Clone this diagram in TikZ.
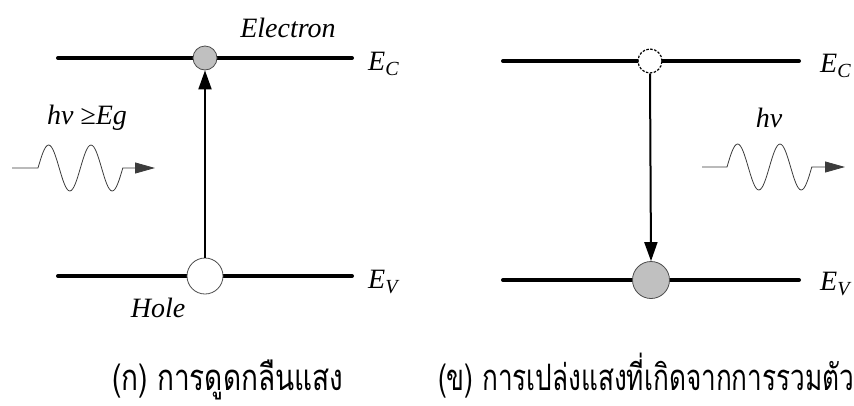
\documentclass[tikz,border=0pt]{standalone}
\usepackage{fontspec}
\setmainfont{Liberation Serif}
\newfontfamily\thaifont[Script=Thai]{Loma}
\usetikzlibrary{arrows.meta,positioning}
\definecolor{carrier}{RGB}{192,192,192}
\definecolor{wavegray}{RGB}{60,60,60}
\newcommand{\lvl}[2]{\textit{#1}\raisebox{-0.45ex}{\fontsize{20}{24}\selectfont\textit{#2}}}
\newcommand{\thaicap}[2][1]{\scalebox{#1}[1.3]{#2}}
\tikzset{
  band/.style={line width=4pt,line cap=round},
  electron/.style={circle,draw=black!70,line width=0.8pt,fill=carrier,minimum size=24pt,inner sep=0pt},
  hole/.style={circle,draw=black!70,line width=0.8pt,fill=white,minimum size=36pt,inner sep=0pt},
  ghost/.style={electron,fill=white,draw=black,dashed,dash pattern=on 2.5pt off 1.5pt,line width=1.2pt},
  trans/.style={-{Triangle[length=19pt,width=13pt]},line width=2pt},
  photon/.style={-{Triangle[length=20pt,width=11pt]},draw=wavegray,line width=0.8pt},
  lbl/.style={font=\fontsize{28}{34}\selectfont\itshape,inner sep=0pt},
  caption/.style={font=\thaifont\fontsize{28}{34}\selectfont,inner sep=0pt,anchor=base west}
}

\begin{document}
\begin{tikzpicture}[x=1pt,y=-1pt]
  \useasboundingbox (0,0) rectangle (854,405);

  % absorption
  \coordinate (cl1) at (58,58);
  \coordinate (cr1) at (352,58);
  \coordinate (vl1) at (58,276);
  \coordinate (vr1) at (352,276);
  \draw[band] (cl1) -- (cr1);
  \draw[band] (vl1) -- (vr1);
  \node[electron] (el1) at (205,58) {};
  \node[hole] (ho1) at (205,276) {};
  \draw[trans] (ho1.north) -- (el1.south);
  \node[lbl,anchor=west] (ec1) at (368,64) {\lvl{E}{C}};
  \node[lbl,anchor=west] (ev1) at (368,282) {\lvl{E}{V}};
  \node[lbl] (elab) at (288,28) {Electron};
  \node[lbl] (hlab) at (158,308) {Hole};
  \node[lbl] (hv1) at (87,118) {hν ≥Eg};
  \coordinate (wa1) at (12,168);
  \coordinate (wb1) at (155,168);
  \draw[photon] (wa1) -- ++(26,0)
    sin ++(10.6,-23) cos ++(10.6,23) sin ++(10.6,23) cos ++(10.6,-23)
    sin ++(10.6,-23) cos ++(10.6,23) sin ++(10.6,23) cos ++(10.6,-23) -- (wb1);

  % emission
  \coordinate (cl2) at (503,61);
  \coordinate (cr2) at (799,61);
  \coordinate (vl2) at (503,280);
  \coordinate (vr2) at (799,280);
  \draw[band] (cl2) -- (cr2);
  \draw[band] (vl2) -- (vr2);
  \node[ghost] (el2) at (650,61) {};
  \node[electron,minimum size=37pt] (ho2) at (651,280) {};
  \draw[trans] (el2.south) -- (ho2.north);
  \node[lbl,anchor=west] (ec2) at (820,66) {\lvl{E}{C}};
  \node[lbl,anchor=west] (ev2) at (820,284) {\lvl{E}{V}};
  \node[lbl] (hv2) at (769,118) {hν};
  \coordinate (wa2) at (702,167);
  \coordinate (wb2) at (845,167);
  \draw[photon] (wa2) -- ++(25,0)
    sin ++(10.6,-23) cos ++(10.6,23) sin ++(10.6,23) cos ++(10.6,-23)
    sin ++(10.6,-23) cos ++(10.6,23) sin ++(10.6,23) cos ++(10.6,-23) -- (wb2);

  % captions
  \node[caption] (capa) at (112,390) {\thaicap{(ก) การดูดกลืนแสง}};
  \node[caption] (capb) at (438,390) {\thaicap[0.935]{(ข) การเปล่งแสงที่เกิดจากการรวมตัว}};
\end{tikzpicture}
\end{document}
